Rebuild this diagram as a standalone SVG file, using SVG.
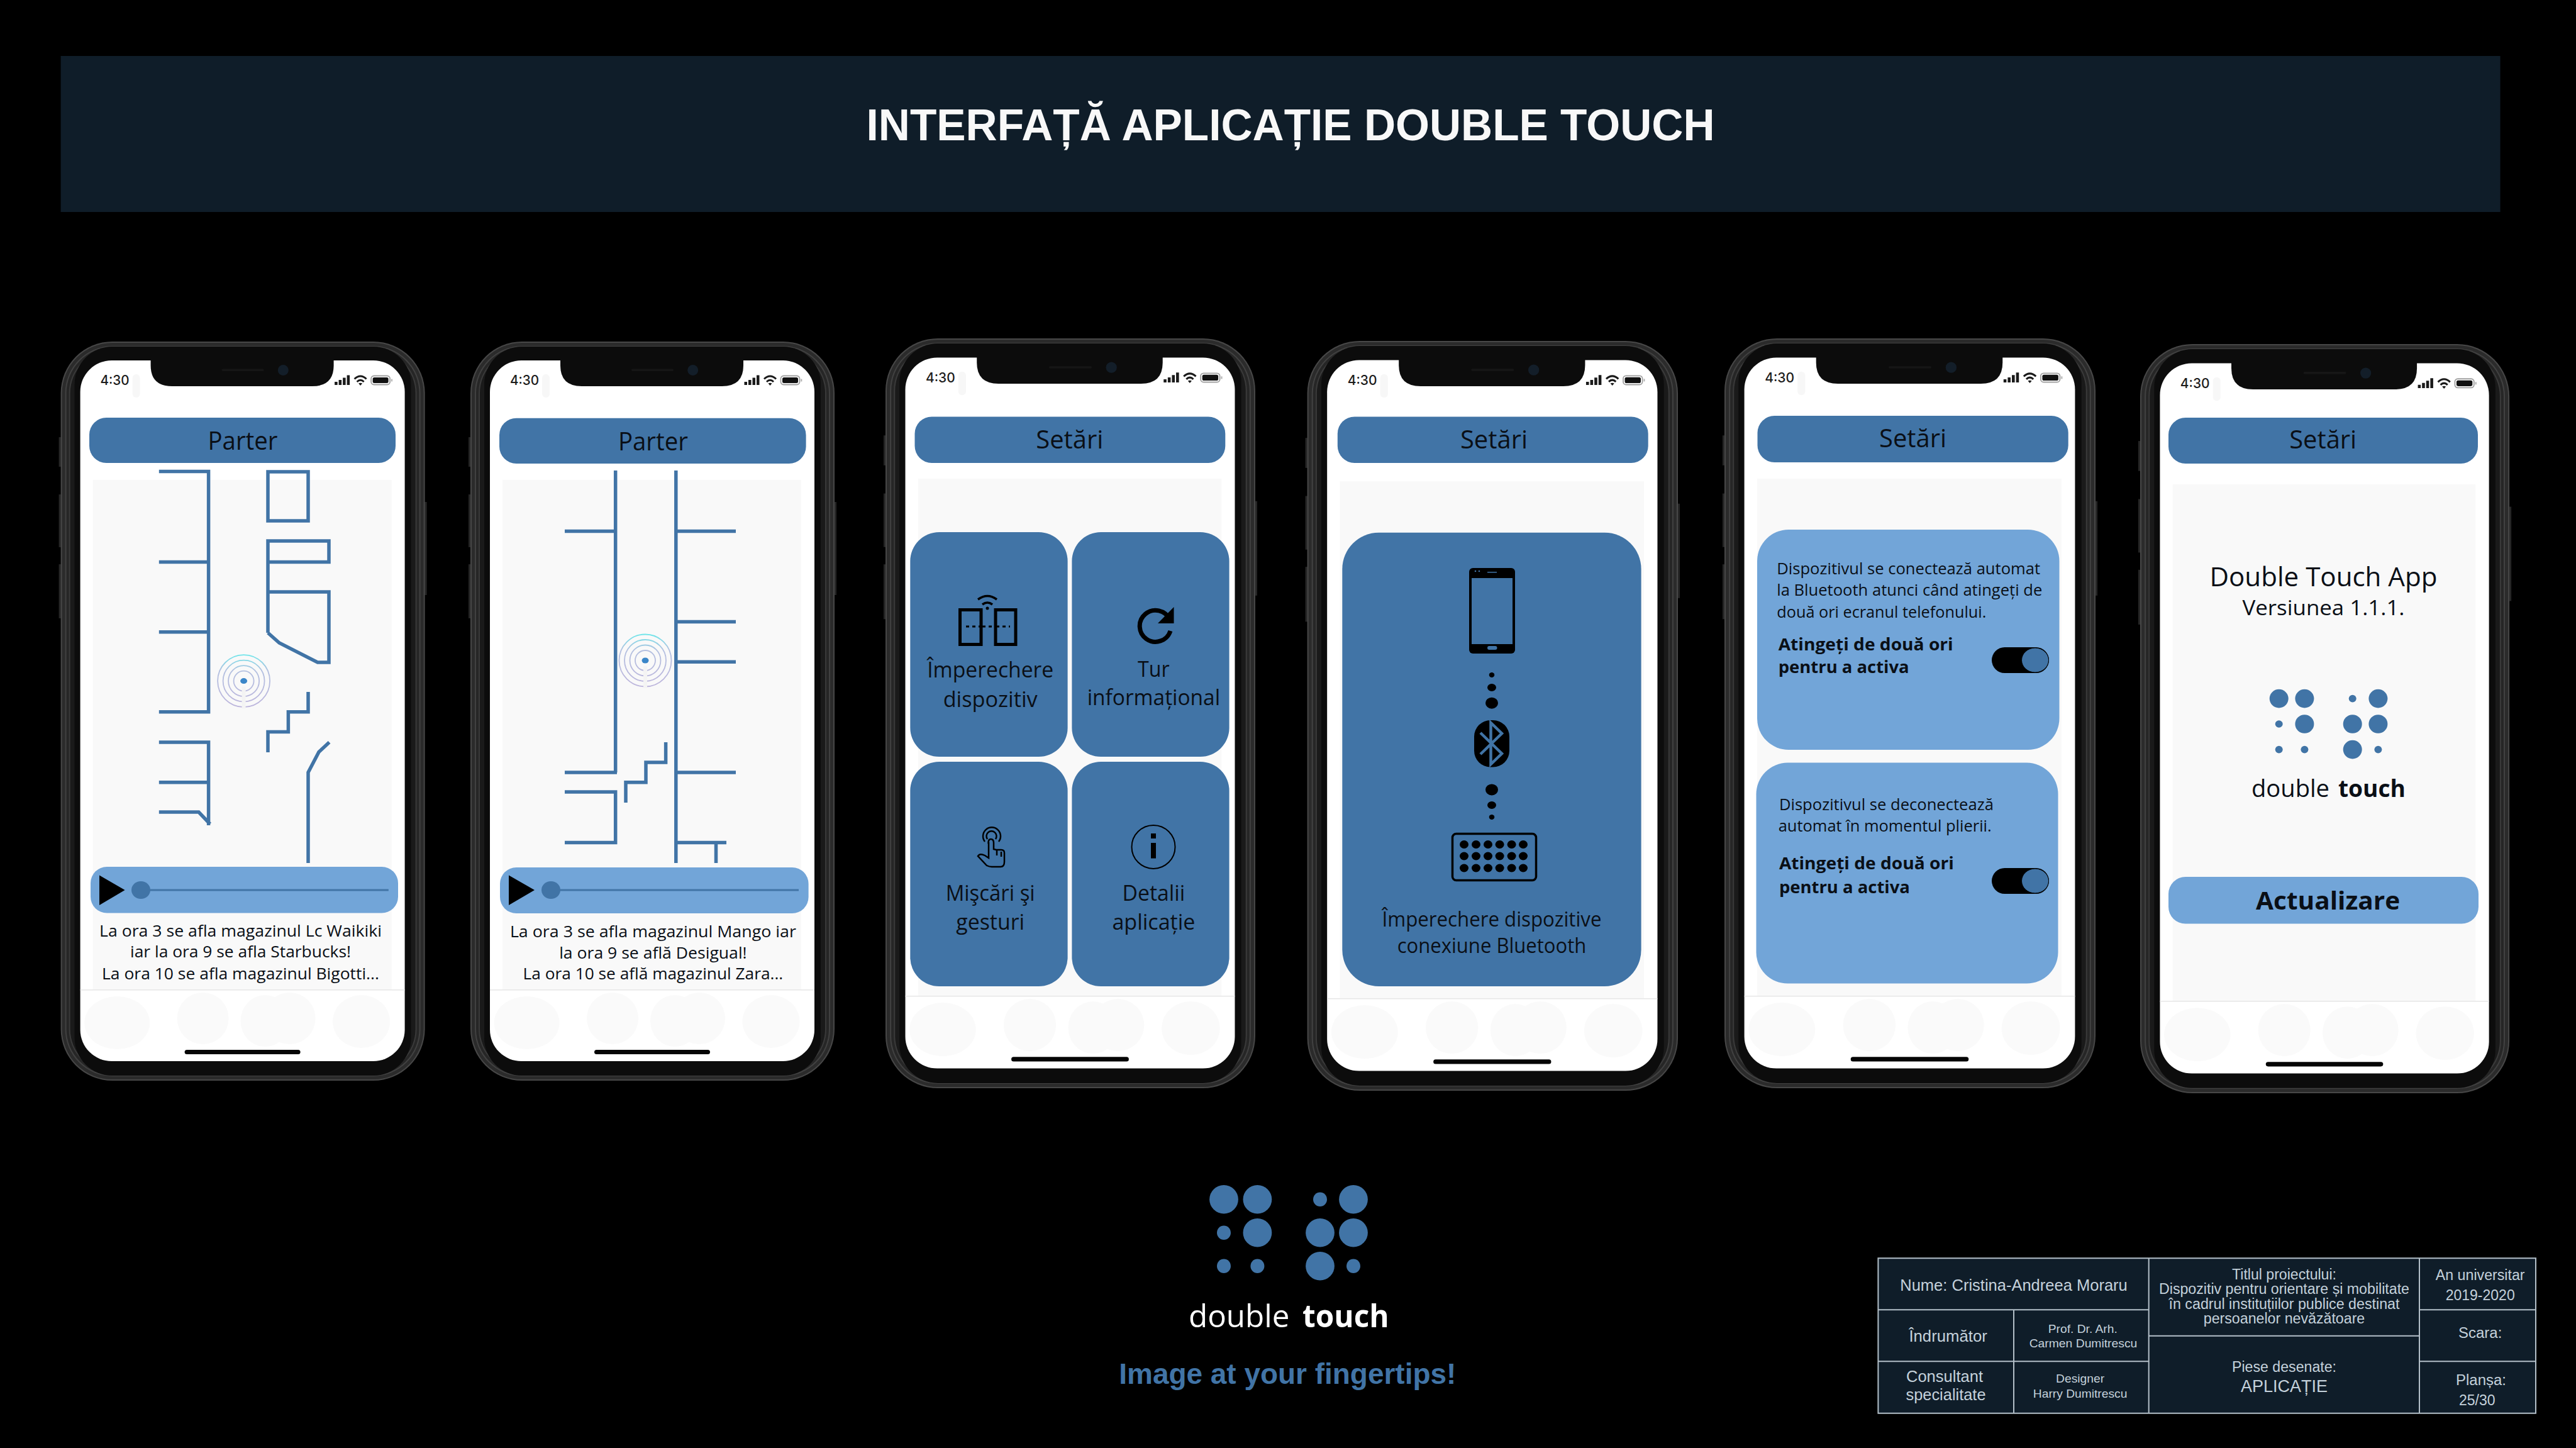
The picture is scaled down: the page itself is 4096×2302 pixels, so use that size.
<svg xmlns="http://www.w3.org/2000/svg" xmlns:xlink="http://www.w3.org/1999/xlink" width="4096" height="2302" viewBox="0 0 4096 2302">
<style>
text{text-anchor:middle}
.os{font-family:"Open Sans","Noto Sans",sans-serif;fill:#0a0f16}
.b{font-weight:700}
.ls{font-family:"Liberation Sans",Arial,sans-serif}
.tb{fill:#c4d1db;font-family:"Liberation Sans",Arial,sans-serif}
.st{text-anchor:start}
.head{fill:#4174a6}
.lite{fill:#72a5d8}
.wall{fill:none;stroke:#4174a6;stroke-width:5.5}
.tl{stroke:#b4c0c9;stroke-width:2;fill:none}
.hk{fill:#000;stroke:none}
.blob{fill:#fafafa}
.ic{fill:none;stroke:#000;stroke-width:3.5}
.bd{fill:#4174a6}
</style>
<defs>
<linearGradient id="bg" x1="0" y1="-42" x2="0" y2="42" gradientUnits="userSpaceOnUse"><stop offset="0" stop-color="#6fe6ea"/><stop offset=".3" stop-color="#b3c0e0"/><stop offset="1" stop-color="#bdb5dc"/></linearGradient>
<g id="beacon">
<g fill="none" stroke="url(#bg)" stroke-width="1.8"><circle r="41.5"/><circle r="33"/><circle r="24.5"/><circle r="16"/></g>
<rect x="-3" y="9" width="6" height="35" fill="#f4f4f4"/>
<ellipse rx="5.5" ry="4.5" fill="#3a86c8"/>
</g>
<g id="frame">
<rect x="-3" y="152" width="6" height="47" fill="#262626"/><rect x="-3" y="243" width="6" height="84" fill="#262626"/><rect x="-3" y="354" width="6" height="86" fill="#262626"/><rect x="575" y="255" width="7" height="148" fill="#262626"/>
<rect width="579" height="1175" rx="82" fill="#474747"/>
<rect x="2" y="2" width="575" height="1171" rx="80" fill="#2b2b2b"/>
<rect x="7" y="7" width="565" height="1161" rx="75" fill="#414141"/>
<rect x="9" y="9" width="561" height="1157" rx="73" fill="#262626"/>
<rect x="13" y="13" width="553" height="1149" rx="69" fill="#3a3a3a"/>
<rect x="15" y="15" width="549" height="1145" rx="67" fill="#1a1a1a"/>
<rect x="22" y="8" width="535" height="1159" rx="60" fill="#0c0c0c"/>
<rect x="31" y="30" width="516" height="1114" rx="50" fill="#fff"/>
<path d="M143 28H434V38Q434 71 400 71H177Q143 71 143 38Z" fill="#0c0c0c"/>
<rect x="256" y="43.500" width="67" height="3.500" rx="1.700" fill="#161616"/>
<circle cx="353.700" cy="45.500" r="8.500" fill="#131e29"/>
<rect x="114" y="52" width="12" height="37" rx="6" fill="#f7f7f7"/>
<rect x="51" y="220" width="475" height="810" fill="#f9f9f9"/>
<rect x="31" y="1030" width="516" height="1.500" fill="#e6e6e6"/>
<ellipse class="blob" cx="89.600" cy="1083" rx="52" ry="42"/>
<ellipse class="blob" cx="226" cy="1076" rx="41" ry="41"/>
<ellipse class="blob" cx="325" cy="1080" rx="39" ry="41"/>
<ellipse class="blob" cx="364" cy="1076" rx="41" ry="41"/>
<ellipse class="blob" cx="478" cy="1081" rx="45.500" ry="42"/>
<rect x="197" y="1126" width="184" height="7" rx="3.500" fill="#050505"/>
<text x="86" y="69" font-size="21" font-family="Inter,'Liberation Sans',sans-serif" font-weight="500" fill="#1c1c1c" textLength="46" lengthAdjust="spacingAndGlyphs">4:30</text>
<path d="M435.500 64h4.500v5h-4.500zM442 61h4.500v8h-4.500zM448.500 57.500h4.500v11.500h-4.500zM455 53.500h4.500v15.500h-4.500z" fill="#1a1a1a"/>
<path d="M467 59.500Q476.500 50.500 486 59.500M471 64Q476.500 58.500 482 64" fill="none" stroke="#1a1a1a" stroke-width="3"/><path d="M473.500 66.500L476.500 70L479.500 66.500Q476.500 65 473.500 66.500Z" fill="#1a1a1a"/>
<rect x="493.500" y="54.500" width="30" height="14" rx="4.500" fill="#fff" stroke="#a0a0a0" stroke-width="1.800"/><rect x="496" y="57" width="25" height="9" rx="2.500" fill="#111"/><rect x="525.500" y="59.500" width="1.800" height="4" fill="#aaa"/>
</g>
</defs>
<rect width="4096" height="2302" fill="#000"/>
<g id="title">
<rect x="96.600" y="89" width="3879" height="248" fill="#0f1d29"/>
<text class="ls b" x="2052" y="223" font-size="70" fill="#f8f8f8" textLength="1349" lengthAdjust="spacingAndGlyphs">INTERFAȚĂ APLICAȚIE DOUBLE TOUCH</text>
</g>

<g id="phone-1">
<use href="#frame" transform="translate(96.600,543)"/>
<rect class="head" x="142" y="664" width="487" height="72" rx="27"/>
<text class="os" x="386" y="714.500" font-size="40" textLength="111" lengthAdjust="spacingAndGlyphs">Parter</text>
<path class="wall" d="M252.800 749.600H331.600V1131.700H252.800M252.800 893.500H331.600M252.800 1004.800H331.600M252.800 1180H331.600V1312M252.800 1243.700H331.600M252.800 1291H316L334 1310M426 750H490V828H426ZM426 1006V860H523V893.500H426M426 941H523V1053H505L444 1022L426 1006M490 1100V1131.700H458.400V1163.600H426V1196M490 1372V1228L507 1195.500L523.600 1180"/>
<use href="#beacon" x="387.600" y="1082.600"/>
<rect class="lite" x="144" y="1378" width="489" height="73.500" rx="26"/>
<path class="hk" d="M158 1391.600L198.600 1415L158 1439Z"/>
<path d="M224 1415H617.800" stroke="#4174a6" stroke-width="3"/><ellipse class="head" cx="224" cy="1415" rx="15" ry="14"/>
<text class="os" x="382.500" y="1489" font-size="25" textLength="449" lengthAdjust="spacingAndGlyphs">La ora 3 se afla magazinul Lc Waikiki</text>
<text class="os" x="382.500" y="1522" font-size="25" textLength="351" lengthAdjust="spacingAndGlyphs">iar la ora 9 se afla Starbucks!</text>
<text class="os" x="382.500" y="1557" font-size="25" textLength="441" lengthAdjust="spacingAndGlyphs">La ora 10 se afla magazinul Bigotti...</text>
</g>

<g id="phone-2">
<use href="#frame" transform="translate(748,543)"/>
<rect class="head" x="794" y="664.700" width="487.600" height="72.300" rx="27"/>
<text class="os" x="1038.400" y="716" font-size="40" textLength="111" lengthAdjust="spacingAndGlyphs">Parter</text>
<path class="wall" d="M978.700 748V1228M898 844.500H978.700M898 1228H981M898 1259H978.700V1339.500H898M1074.800 748V1372M1074.800 844.500H1170M1074.800 988.500H1170M1074.800 1052.300H1170M1074.800 1228H1170M1074.800 1339.500H1155M1138.500 1339.500V1372M1058.600 1180V1212H1027V1243.700H995V1276"/>
<use href="#beacon" x="1026" y="1050"/>
<rect class="lite" x="795" y="1379" width="490.600" height="73" rx="26"/>
<path class="hk" d="M809 1391.600L850 1415L809 1439Z"/>
<path d="M876 1415H1270" stroke="#4174a6" stroke-width="3"/><ellipse class="head" cx="876" cy="1415" rx="15" ry="14"/>
<text class="os" x="1038.400" y="1490" font-size="25" textLength="455" lengthAdjust="spacingAndGlyphs">La ora 3 se afla magazinul Mango iar</text>
<text class="os" x="1038.400" y="1524" font-size="25" textLength="298.500" lengthAdjust="spacingAndGlyphs">la ora 9 se află Desigual!</text>
<text class="os" x="1038.400" y="1557" font-size="25" textLength="413.600" lengthAdjust="spacingAndGlyphs">La ora 10 se află magazinul Zara...</text>
</g>

<g id="phone-3">
<use href="#frame" transform="translate(1408,538) scale(1.0155,1.0145)"/>
<rect class="head" x="1454.500" y="662.400" width="493.800" height="73.600" rx="27"/>
<text class="os" x="1700.800" y="713" font-size="40" textLength="107" lengthAdjust="spacingAndGlyphs">Setări</text>
<rect class="head" x="1447.300" y="846" width="250.300" height="357" rx="46"/>
<rect class="head" x="1704.400" y="846" width="250.200" height="357" rx="46"/>
<rect class="head" x="1447.300" y="1211" width="250.300" height="357" rx="46"/>
<rect class="head" x="1704.400" y="1211" width="250.200" height="357" rx="46"/>
<g class="ic">
<rect x="1526.500" y="969.500" width="33.500" height="55" stroke-width="5"/><rect x="1583" y="969.500" width="32" height="55" stroke-width="5"/>
<path d="M1536 996h22M1562 996h18M1584 996h22" stroke-dasharray="5 5" stroke-width="3"/>
<path d="M1555 953Q1570 942 1585 953M1562 961Q1570 955 1578 961" stroke-width="3.500"/>
</g>
<circle cx="1570" cy="967" r="2.500"/>
<path d="M1860 985A25 25 0 1 0 1861 1003" fill="none" stroke="#000" stroke-width="7"/><path d="M1841 991L1866.500 965V991Z"/>
<g class="ic">
<path d="M1566 1338A14 14 0 1 1 1588 1338M1570 1334A8 8 0 1 1 1583 1334" stroke-width="2.500"/>
<path d="M1572 1340v24l-6 -4q-8 -4 -11 1l14 15q4 2 8 2h14q6 0 6 -8v-14q0 -5 -5 -5h-8l-4 -1v-10q0 -6 -4.500 -6q-4 0 -4 6zM1585 1352v8M1592 1354v8" stroke-width="2.500"/>
</g>
<circle cx="1834" cy="1346.400" r="34.500" fill="none" stroke="#000" stroke-width="2"/>
<rect x="1830" y="1325" width="8" height="8"/><rect x="1830" y="1340" width="8" height="24.600"/>
<text class="os" x="1574.700" y="1077" font-size="35" textLength="201" lengthAdjust="spacingAndGlyphs">Împerechere</text>
<text class="os" x="1574.700" y="1124" font-size="35" textLength="150" lengthAdjust="spacingAndGlyphs">dispozitiv</text>
<text class="os" x="1834.400" y="1075.600" font-size="35" textLength="50.600" lengthAdjust="spacingAndGlyphs">Tur</text>
<text class="os" x="1834.400" y="1120.800" font-size="35" textLength="211.500" lengthAdjust="spacingAndGlyphs">informațional</text>
<text class="os" x="1574.700" y="1432" font-size="35" textLength="142" lengthAdjust="spacingAndGlyphs">Mişcări şi</text>
<text class="os" x="1574.700" y="1478" font-size="35" textLength="108.700" lengthAdjust="spacingAndGlyphs">gesturi</text>
<text class="os" x="1834.400" y="1432" font-size="35" textLength="99.600" lengthAdjust="spacingAndGlyphs">Detalii</text>
<text class="os" x="1834.400" y="1478" font-size="35" textLength="132" lengthAdjust="spacingAndGlyphs">aplicație</text>
</g>

<g id="phone-4">
<use href="#frame" transform="translate(2078.600,542) scale(1.018,1.0145)"/>
<rect class="head" x="2126.800" y="662.400" width="493.900" height="73.600" rx="27"/>
<text class="os" x="2375.500" y="713" font-size="40" textLength="107" lengthAdjust="spacingAndGlyphs">Setări</text>
<rect class="head" x="2134.300" y="846.800" width="475.300" height="721.200" rx="58"/>
<rect x="2336" y="903" width="73" height="136" rx="6"/>
<rect class="bd" x="2340" y="919" width="65" height="105"/>
<rect class="bd" x="2365" y="1027" width="15.500" height="6" rx="3"/><rect class="bd" x="2365" y="909" width="15" height="1.500"/><circle class="bd" cx="2346" cy="908" r="1.300"/><circle class="bd" cx="2352" cy="908" r="1.300"/>
<g id="bt-dots">
<ellipse cx="2372" cy="1073" rx="4.300" ry="4"/><ellipse cx="2372" cy="1093" rx="7" ry="6"/><ellipse cx="2372" cy="1117.700" rx="10" ry="9"/>
<ellipse cx="2372" cy="1255.400" rx="10" ry="9"/><ellipse cx="2372" cy="1280" rx="7" ry="6"/><ellipse cx="2372" cy="1299" rx="4.300" ry="4"/>
</g>
<rect x="2344" y="1145" width="56" height="74.600" rx="26"/>
<path d="M2354 1165L2388 1198L2370.500 1215V1149L2388 1166L2354 1199" fill="none" stroke="#4174a6" stroke-width="4.500"/>
<rect x="2309.500" y="1325.500" width="133" height="74" rx="6" fill="none" stroke="#000" stroke-width="3.500"/>
<g id="keys">
<ellipse cx="2328" cy="1342.500" rx="7" ry="6.500"/><ellipse cx="2347" cy="1342.500" rx="7" ry="6.500"/><ellipse cx="2366" cy="1342.500" rx="7" ry="6.500"/><ellipse cx="2384.600" cy="1342.500" rx="7" ry="6.500"/><ellipse cx="2403.600" cy="1342.500" rx="7" ry="6.500"/><ellipse cx="2422" cy="1342.500" rx="7" ry="6.500"/>
<ellipse cx="2328" cy="1361" rx="7" ry="6.500"/><ellipse cx="2347" cy="1361" rx="7" ry="6.500"/><ellipse cx="2366" cy="1361" rx="7" ry="6.500"/><ellipse cx="2384.600" cy="1361" rx="7" ry="6.500"/><ellipse cx="2403.600" cy="1361" rx="7" ry="6.500"/><ellipse cx="2422" cy="1361" rx="7" ry="6.500"/>
<ellipse cx="2328" cy="1380" rx="7" ry="6.500"/><ellipse cx="2347" cy="1380" rx="7" ry="6.500"/><ellipse cx="2366" cy="1380" rx="7" ry="6.500"/><ellipse cx="2384.600" cy="1380" rx="7" ry="6.500"/><ellipse cx="2403.600" cy="1380" rx="7" ry="6.500"/><ellipse cx="2422" cy="1380" rx="7" ry="6.500"/>
</g>
<text class="os" x="2372" y="1473" font-size="32" textLength="349" lengthAdjust="spacingAndGlyphs">Împerechere dispozitive</text>
<text class="os" x="2372" y="1514.500" font-size="32" textLength="300.500" lengthAdjust="spacingAndGlyphs">conexiune Bluetooth</text>
</g>

<g id="phone-5">
<use href="#frame" transform="translate(2742,538) scale(1.019,1.0145)"/>
<rect class="head" x="2794.500" y="661" width="494.200" height="74" rx="27"/>
<text class="os" x="3041.600" y="710.700" font-size="40" textLength="107" lengthAdjust="spacingAndGlyphs">Setări</text>
<rect class="lite" x="2794" y="842" width="480.500" height="350" rx="50"/>
<rect class="lite" x="2792.500" y="1212.600" width="480" height="351" rx="50"/>
<text class="os st" x="2825.300" y="913" font-size="25" textLength="418.700" lengthAdjust="spacingAndGlyphs">Dispozitivul se conectează automat</text>
<text class="os st" x="2825.300" y="947" font-size="25" textLength="422" lengthAdjust="spacingAndGlyphs">la Bluetooth atunci când atingeți de</text>
<text class="os st" x="2825.300" y="981.500" font-size="25" textLength="333" lengthAdjust="spacingAndGlyphs">două ori ecranul telefonului.</text>
<text class="os b st" x="2827.700" y="1033.600" font-size="26" textLength="278" lengthAdjust="spacingAndGlyphs">Atingeți de două ori</text>
<text class="os b st" x="2827.700" y="1070" font-size="26" textLength="208" lengthAdjust="spacingAndGlyphs">pentru a activa</text>
<rect x="3167" y="1029" width="91" height="41" rx="20.500"/><ellipse class="head" cx="3236" cy="1049.500" rx="21.500" ry="19.500" stroke="#000" stroke-width="1"/>
<text class="os st" x="2828.900" y="1288" font-size="25" textLength="341" lengthAdjust="spacingAndGlyphs">Dispozitivul se deconectează</text>
<text class="os st" x="2827.700" y="1322" font-size="25" textLength="339" lengthAdjust="spacingAndGlyphs">automat în momentul plierii.</text>
<text class="os b st" x="2828.900" y="1382" font-size="26" textLength="278" lengthAdjust="spacingAndGlyphs">Atingeți de două ori</text>
<text class="os b st" x="2828.900" y="1420.400" font-size="26" textLength="208" lengthAdjust="spacingAndGlyphs">pentru a activa</text>
<rect x="3167" y="1380" width="91" height="41" rx="20.500"/><ellipse class="head" cx="3236" cy="1400.500" rx="21.500" ry="19.500" stroke="#000" stroke-width="1"/>
</g>

<g id="phone-6">
<use href="#frame" transform="translate(3403,547) scale(1.014,1.0136)"/>
<rect class="head" x="3448" y="664" width="492" height="73" rx="27"/>
<text class="os" x="3693.700" y="713" font-size="40" textLength="107" lengthAdjust="spacingAndGlyphs">Setări</text>
<text class="os" x="3694.500" y="932.400" font-size="42" textLength="362" lengthAdjust="spacingAndGlyphs">Double Touch App</text>
<text class="os" x="3694.500" y="977.600" font-size="32" textLength="258" lengthAdjust="spacingAndGlyphs">Versiunea 1.1.1.</text>
<g class="head">
<ellipse cx="3623.700" cy="1110.600" rx="15" ry="14.800"/><ellipse cx="3664.400" cy="1110.600" rx="15" ry="14.800"/><ellipse cx="3740.700" cy="1110.600" rx="6" ry="5.800"/><ellipse cx="3781.400" cy="1110.600" rx="15" ry="14.800"/>
<ellipse cx="3623.700" cy="1151" rx="6" ry="5.800"/><ellipse cx="3664.400" cy="1151" rx="15" ry="14.800"/><ellipse cx="3740.700" cy="1151" rx="15" ry="14.800"/><ellipse cx="3781.400" cy="1151" rx="15" ry="14.800"/>
<ellipse cx="3623.700" cy="1191.600" rx="6" ry="5.800"/><ellipse cx="3664.400" cy="1191.600" rx="6" ry="5.800"/><ellipse cx="3740.700" cy="1191.600" rx="15" ry="14.800"/><ellipse cx="3781.400" cy="1191.600" rx="6" ry="5.800"/>
</g>
<text class="os st" x="3580" y="1267" font-size="38" textLength="124" lengthAdjust="spacingAndGlyphs">double</text>
<text class="os b st" x="3718" y="1267" font-size="38" textLength="107" lengthAdjust="spacingAndGlyphs">touch</text>
<rect class="lite" x="3448" y="1394" width="493" height="74.600" rx="27"/>
<text class="os b" x="3701.600" y="1446" font-size="40" textLength="229" lengthAdjust="spacingAndGlyphs">Actualizare</text>
</g>

<g id="logo">
<g class="head">
<ellipse cx="1946" cy="1906.700" rx="22.900" ry="22.700"/><ellipse cx="1999.400" cy="1906.700" rx="22.900" ry="22.700"/><ellipse cx="2099" cy="1906.700" rx="11" ry="11.300"/><ellipse cx="2152" cy="1906.700" rx="22.900" ry="22.700"/>
<ellipse cx="1946" cy="1959.700" rx="11" ry="11.300"/><ellipse cx="1999.400" cy="1959.700" rx="22.900" ry="22.700"/><ellipse cx="2099" cy="1959.700" rx="22.900" ry="22.700"/><ellipse cx="2152" cy="1959.700" rx="22.900" ry="22.700"/>
<ellipse cx="1946" cy="2012.700" rx="11" ry="11.300"/><ellipse cx="1999.400" cy="2012.700" rx="11" ry="11.300"/><ellipse cx="2099" cy="2012.700" rx="22.900" ry="22.700"/><ellipse cx="2152" cy="2012.700" rx="11" ry="11.300"/>
</g>
<text class="os st" x="1890" y="2110" font-size="50" style="fill:#fff" textLength="160.400" lengthAdjust="spacingAndGlyphs">double</text>
<text class="os b st" x="2071" y="2110" font-size="50" style="fill:#fff" textLength="137.600" lengthAdjust="spacingAndGlyphs">touch</text>
<text class="ls b" x="2047.300" y="2200" font-size="46" fill="#4174a6" textLength="536" lengthAdjust="spacingAndGlyphs">Image at your fingertips!</text>
</g>

<g id="title-block">
<rect x="2986.400" y="2000.300" width="1045.600" height="246.400" fill="#0f1d29"/>
<path class="tl" d="M2986.400 2000.300H4032V2246.700H2986.400ZM3416.700 2000.300V2246.700M3847 2000.300V2246.700M3202 2082.300V2246.700M2986.400 2082.300H3416.700M2986.400 2164.300H3416.700M3847 2082.300H4032M3847 2164.300H4032M3416.700 2123.700H3847"/>
<text class="tb" x="3202" y="2051.700" font-size="25.500" textLength="361.500" lengthAdjust="spacingAndGlyphs">Nume: Cristina-Andreea Moraru</text>
<text class="tb" x="3632" y="2034.300" font-size="23" textLength="166" lengthAdjust="spacingAndGlyphs">Titlul proiectului:</text>
<text class="tb" x="3632" y="2057.300" font-size="23" textLength="398" lengthAdjust="spacingAndGlyphs">Dispozitiv pentru orientare și mobilitate</text>
<text class="tb" x="3632" y="2080.700" font-size="23" textLength="367" lengthAdjust="spacingAndGlyphs">în cadrul instituțiilor publice destinat</text>
<text class="tb" x="3632" y="2103.700" font-size="23" textLength="256.500" lengthAdjust="spacingAndGlyphs">persoanelor nevăzătoare</text>
<text class="tb" x="3943.700" y="2035" font-size="23" textLength="141.800" lengthAdjust="spacingAndGlyphs">An universitar</text>
<text class="tb" x="3943.700" y="2066.700" font-size="23" textLength="110" lengthAdjust="spacingAndGlyphs">2019-2020</text>
<text class="tb" x="3097.600" y="2133" font-size="25.500" textLength="124.400" lengthAdjust="spacingAndGlyphs">Îndrumător</text>
<text class="tb" x="3311.800" y="2118.700" font-size="19" textLength="110" lengthAdjust="spacingAndGlyphs">Prof. Dr. Arh.</text>
<text class="tb" x="3312.500" y="2142" font-size="19" textLength="171.700" lengthAdjust="spacingAndGlyphs">Carmen Dumitrescu</text>
<text class="tb" x="3943.700" y="2127" font-size="23" textLength="69.500" lengthAdjust="spacingAndGlyphs">Scara:</text>
<text class="tb" x="3092" y="2196.700" font-size="25.500" textLength="122" lengthAdjust="spacingAndGlyphs">Consultant</text>
<text class="tb" x="3094" y="2226.300" font-size="25.500" textLength="127" lengthAdjust="spacingAndGlyphs">specialitate</text>
<text class="tb" x="3307.600" y="2198.300" font-size="19" textLength="77" lengthAdjust="spacingAndGlyphs">Designer</text>
<text class="tb" x="3307.600" y="2221.700" font-size="19" textLength="149.500" lengthAdjust="spacingAndGlyphs">Harry Dumitrescu</text>
<text class="tb" x="3632" y="2181" font-size="23" textLength="166" lengthAdjust="spacingAndGlyphs">Piese desenate:</text>
<text class="tb" x="3632" y="2212.700" font-size="27" textLength="138" lengthAdjust="spacingAndGlyphs">APLICAȚIE</text>
<text class="tb" x="3945" y="2202.300" font-size="23" textLength="80" lengthAdjust="spacingAndGlyphs">Planșa:</text>
<text class="tb" x="3938.800" y="2234" font-size="23" textLength="57.700" lengthAdjust="spacingAndGlyphs">25/30</text>
</g>
</svg>
